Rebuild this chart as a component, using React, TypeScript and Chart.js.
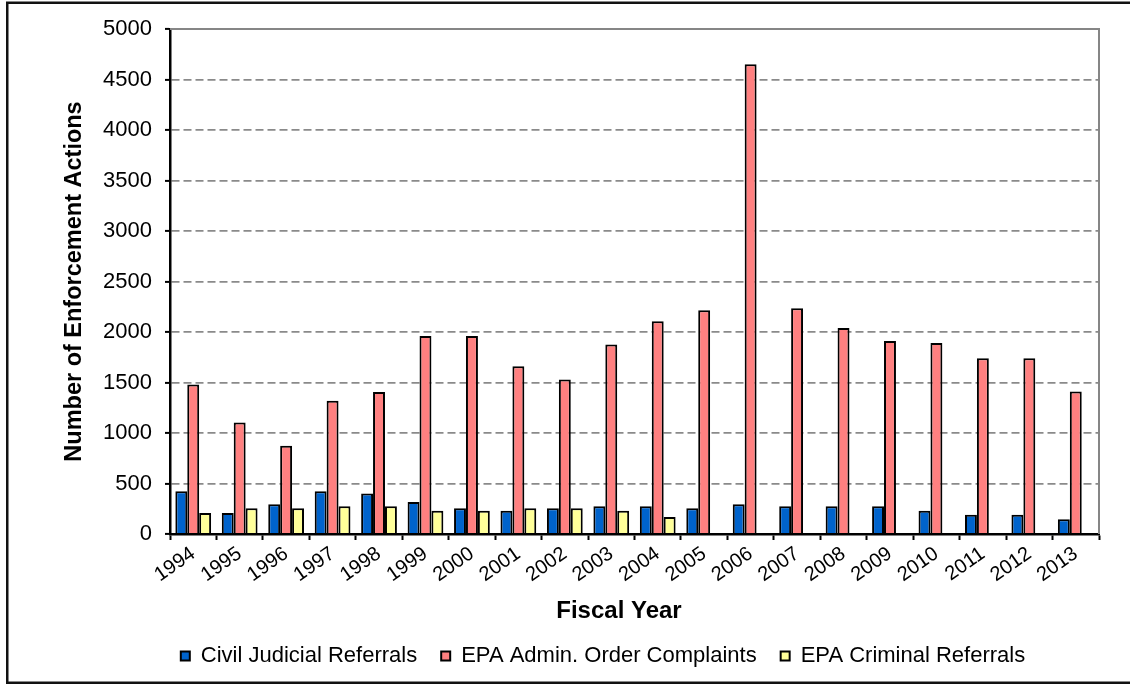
import React, { useEffect, useRef } from "react";
import { Chart, registerables } from "chart.js";

Chart.register(...registerables);

// ---- Data ----
const years: string[] = [
  "1994", "1995", "1996", "1997", "1998", "1999", "2000", "2001", "2002", "2003",
  "2004", "2005", "2006", "2007", "2008", "2009", "2010", "2011", "2012", "2013",
];
const civilJudicialReferrals: number[] = [
  423, 209, 295, 423, 400, 318, 255, 229, 255, 275,
  275, 255, 295, 275, 275, 275, 231, 191, 191, 145,
];
const adminOrderComplaints: number[] = [
  1480, 1105, 875, 1320, 1406, 1960, 1960, 1660, 1530, 1877,
  2106, 2215, 4650, 2235, 2040, 1910, 1890, 1740, 1740, 1410,
];
const criminalReferrals: (number | null)[] = [
  209, 255, 255, 275, 275, 229, 229, 255, 255, 229,
  169, null, null, null, null, null, null, null, null, null,
];
const seriesNames: string[] = [
  "Civil Judicial Referrals",
  "EPA Admin. Order Complaints",
  "EPA Criminal Referrals",
];
const yMin = 0;
const yMax = 5000;
const yStep = 500;
const yTitle = "Number of Enforcement Actions";
const xTitle = "Fiscal Year";

const FONT = '"Liberation Sans", Arial, sans-serif';
const CANVAS_W = 1130;
const CANVAS_H = 685;
const PLOT_BOTTOM = 534;
const LEGEND_FONT = 22;
const LEGEND_PAD = 24;

const chartPlugin = {
  id: "frameAndTitles",
  afterLayout(chart: any) {
    const lg = chart.legend;
    if (lg) {
      const dx = 603 - (lg.left + lg.right) / 2;
      const dy = 656 - (lg.top + LEGEND_PAD + LEGEND_FONT / 2);
      lg.left += dx;
      lg.right += dx;
      lg.top += dy;
      lg.bottom += dy;
    }
  },
  beforeDraw(chart: any) {
    const { ctx, width, height } = chart;
    ctx.save();
    ctx.fillStyle = "#ffffff";
    ctx.fillRect(0, 0, width, height);
    ctx.strokeStyle = "#111111";
    ctx.lineWidth = 2.5;
    ctx.strokeRect(7.25, 2.75, width + 20, 680);
    ctx.restore();
  },
  beforeDatasetsDraw(chart: any) {
    const { ctx, chartArea } = chart;
    const { left, right, top, bottom } = chartArea;
    ctx.save();
    ctx.strokeStyle = "#868686";
    ctx.lineWidth = 2;
    ctx.beginPath();
    ctx.moveTo(left, top);
    ctx.lineTo(right, top);
    ctx.lineTo(right, bottom);
    ctx.stroke();
    ctx.restore();
  },
  afterDraw(chart: any) {
    const { ctx } = chart;
    ctx.save();
    ctx.fillStyle = "#000";
    ctx.font = `bold 24px ${FONT}`;
    ctx.textAlign = "center";
    ctx.textBaseline = "middle";
    ctx.fillText(xTitle, 619, 611);
    ctx.restore();
  },
};

export default function App() {
  const canvasRef = useRef<HTMLCanvasElement | null>(null);

  useEffect(() => {
    const canvas = canvasRef.current;
    if (!canvas) return;
    const chart = new Chart(canvas, {
      type: "bar",
      data: {
        labels: years,
        datasets: [
          {
            label: seriesNames[0],
            data: civilJudicialReferrals,
            backgroundColor: "#0063CC",
            borderColor: "#000000",
            borderWidth: 2,
          },
          {
            label: seriesNames[1],
            data: adminOrderComplaints,
            backgroundColor: "#FF8080",
            borderColor: "#000000",
            borderWidth: 2,
          },
          {
            label: seriesNames[2],
            data: criminalReferrals,
            backgroundColor: "#FFFF99",
            borderColor: "#000000",
            borderWidth: 2,
          },
        ],
      },
      options: {
        responsive: false,
        animation: false,
        devicePixelRatio: 1,
        layout: { padding: { left: 0, top: 29, right: 31, bottom: 0 } },
        datasets: {
          bar: { categoryPercentage: 0.77, barPercentage: 1.0 },
        },
        plugins: {
          legend: {
            position: "bottom",
            labels: {
              boxWidth: 9,
              boxHeight: 9,
              padding: LEGEND_PAD,
              color: "#000",
              font: { family: FONT, size: LEGEND_FONT },
            },
          },
          tooltip: { enabled: false },
          title: { display: false },
        },
        scales: {
          x: {
            offset: true,
            afterFit: (scale: any) => {
              const lgH = scale.chart.legend ? scale.chart.legend.height : 0;
              scale.height = CANVAS_H - lgH - PLOT_BOTTOM;
            },
            grid: {
              display: true,
              drawOnChartArea: false,
              drawTicks: true,
              tickLength: 6,
              tickColor: "#000",
              tickWidth: 2,
              offset: true,
            },
            border: { display: true, color: "#000", width: 2.5 },
            ticks: {
              autoSkip: false,
              maxRotation: 35,
              minRotation: 35,
              padding: 2,
              color: "#000",
              font: { family: FONT, size: 20 },
            },
          },
          y: {
            min: yMin,
            max: yMax,
            afterFit: (scale: any) => {
              scale.width = 170;
            },
            grid: {
              display: true,
              drawOnChartArea: true,
              drawTicks: true,
              tickLength: 5,
              tickColor: "#000",
              tickWidth: 2,
              tickBorderDash: [],
              color: "#8a8a8a",
              lineWidth: 1.8,
            },
            border: { display: true, color: "#000", width: 2.5, dash: [8, 4] },
            title: {
              display: true,
              text: yTitle,
              color: "#000",
              font: { family: FONT, size: 23.5, weight: "bold" },
              padding: { top: 60, bottom: 0 },
            },
            ticks: {
              stepSize: yStep,
              padding: 13,
              color: "#000",
              font: { family: FONT, size: 22 },
              callback: (v: any) => String(v),
            },
          },
        },
      },
      plugins: [chartPlugin],
    } as any);
    return () => {
      chart.destroy();
    };
  }, []);

  return (
    <canvas
      ref={canvasRef}
      width={CANVAS_W}
      height={CANVAS_H}
      style={{ position: "absolute", left: 0, top: 0, width: CANVAS_W, height: CANVAS_H, display: "block" }}
    />
  );
}
